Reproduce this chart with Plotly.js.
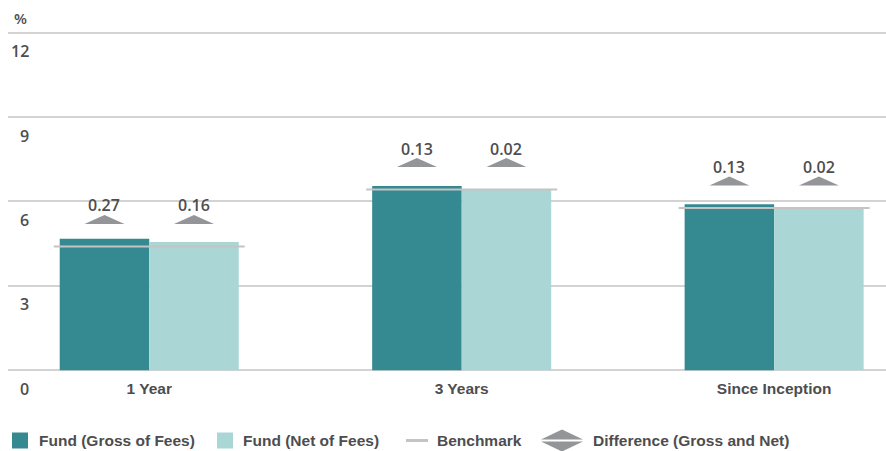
<!DOCTYPE html>
<html>
<head>
<meta charset="utf-8">
<script src="https://cdn.plot.ly/plotly-3.0.1.min.js"></script>
<style>
  html, body { margin: 0; padding: 0; background: #ffffff; }
  #chart { width: 886px; height: 451px; }
</style>
</head>
<body>
<div id="chart"></div>
<script>
// ---- data ----
const categories = ['1 Year', '3 Years', 'Since Inception'];
const grossReturns = [4.67, 6.55, 5.90];
const netReturns = [4.56, 6.44, 5.79];
const benchmarkReturns = [4.40, 6.42, 5.77];
const grossDiff = [0.27, 0.13, 0.13];
const netDiff = [0.16, 0.02, 0.02];
const yTicks = [0, 3, 6, 9, 12];
const seriesNames = ['Fund (Gross of Fees)', 'Fund (Net of Fees)', 'Benchmark', 'Difference (Gross and Net)'];
const unitLabel = '%';

// ---- styles ----
const C_GROSS = '#358991';
const C_NET = '#aad7d6';
const C_BENCH = '#c4c4c4';
const C_TRI = '#939598';
const C_GRID = '#d3d3d3';
const C_TEXT = '#4d4d4f';
const NUM_FONT = 'Open Sans, Noto Sans, DejaVu Sans, sans-serif';
const LBL_FONT = 'Liberation Sans, Arial, DejaVu Sans, sans-serif';

const BARGAP = 0.427;
const barW = (1 - BARGAP) / 2;
const idx = categories.map((_, i) => i);

const traces = [
  { type: 'bar', name: seriesNames[0], x: idx, y: grossReturns,
    marker: { color: C_GROSS }, hoverinfo: 'skip' },
  { type: 'bar', name: seriesNames[1], x: idx, y: netReturns,
    marker: { color: C_NET }, hoverinfo: 'skip' },
  { type: 'scatter', mode: 'markers', name: seriesNames[2], x: idx, y: benchmarkReturns,
    marker: { symbol: 'line-ew', size: 136.4, color: C_BENCH, line: { color: C_BENCH, width: 2 } },
    hoverinfo: 'skip' }
];

const shapes = [];
const annotations = [];

// difference triangles + labels
const tri = 'M-20,22.5 L20,22.5 L0,31.5 Z';
idx.forEach(i => {
  [[-barW / 2, grossDiff[i]], [barW / 2, netDiff[i]]].forEach(([off, d]) => {
    shapes.push({ type: 'path', xref: 'x', yref: 'y', xsizemode: 'pixel', ysizemode: 'pixel',
      xanchor: i + off, yanchor: benchmarkReturns[i], path: tri,
      fillcolor: C_TRI, line: { width: 0 }, layer: 'above' });
    annotations.push({ xref: 'x', yref: 'y', x: i + off, y: benchmarkReturns[i],
      yshift: 41, xanchor: 'center', yanchor: 'middle', showarrow: false,
      text: d.toFixed(2), font: { family: NUM_FONT, size: 16, color: C_TEXT, weight: 600 } });
  });
});

// y tick labels (below gridlines, right-aligned)
yTicks.forEach(t => {
  annotations.push({ xref: 'paper', yref: 'y', x: 0, y: t, xshift: 23, yshift: -18.5,
    xanchor: 'right', yanchor: 'middle', showarrow: false, text: String(t),
    font: { family: NUM_FONT, size: 16, color: C_TEXT, weight: 600 } });
});

// unit label
annotations.push({ xref: 'paper', yref: 'paper', x: 0, y: 1, xshift: 4, yshift: 9,
  xanchor: 'left', yanchor: 'middle', showarrow: false, text: unitLabel,
  font: { family: NUM_FONT, size: 15, color: C_TEXT, weight: 600 } });

// ---- manual legend ----
const LEG_Y = (373 - 440.5) / 346;
const legShape = (path, color) => ({ type: 'path', xref: 'paper', yref: 'paper',
  xsizemode: 'pixel', ysizemode: 'pixel', xanchor: 0, yanchor: LEG_Y, path: path,
  fillcolor: color, line: { width: 0 } });
shapes.push(legShape('M4,-8 H20 V8 H4 Z', C_GROSS));
shapes.push(legShape('M209,-8 H225 V8 H209 Z', C_NET));
shapes.push({ type: 'path', xref: 'paper', yref: 'paper', xsizemode: 'pixel', ysizemode: 'pixel',
  xanchor: 0, yanchor: LEG_Y, path: 'M398,0 H420', line: { color: C_BENCH, width: 3 } });
shapes.push(legShape('M533,1 L575,1 L554,11 Z', C_TRI));
shapes.push(legShape('M533,-1 L575,-1 L554,-11 Z', C_TRI));

const legTextX = [31, 235, 429, 585];
seriesNames.forEach((n, k) => {
  annotations.push({ xref: 'paper', yref: 'paper', x: 0, y: LEG_Y, xshift: legTextX[k] - 2,
    xanchor: 'left', yanchor: 'middle', showarrow: false, text: n,
    font: { family: LBL_FONT, size: 15.5, color: C_TEXT, weight: 'bold' } });
});

const layout = {
  width: 886, height: 451,
  margin: { l: 8, r: 0, t: 27, b: 78, pad: 0 },
  paper_bgcolor: '#ffffff', plot_bgcolor: '#ffffff',
  showlegend: false,
  barmode: 'group', bargap: BARGAP, bargroupgap: 0,
  xaxis: {
    range: [-0.452, 2.358], tickmode: 'array', tickvals: idx, ticktext: categories,
    showgrid: false, zeroline: false, showline: false, ticks: '',
    ticklabelstandoff: 4,
    tickfont: { family: LBL_FONT, size: 15.5, color: C_TEXT, weight: 'bold' },
    fixedrange: true
  },
  yaxis: {
    range: [-0.1, 12.2], tickmode: 'array', tickvals: yTicks, showticklabels: false,
    showgrid: true, gridcolor: C_GRID, gridwidth: 2,
    zeroline: true, zerolinecolor: C_GRID, zerolinewidth: 2,
    showline: false, ticks: '', fixedrange: true
  },
  shapes: shapes,
  annotations: annotations
};

Plotly.newPlot('chart', traces, layout, { displayModeBar: false, staticPlot: true });
</script>
</body>
</html>
